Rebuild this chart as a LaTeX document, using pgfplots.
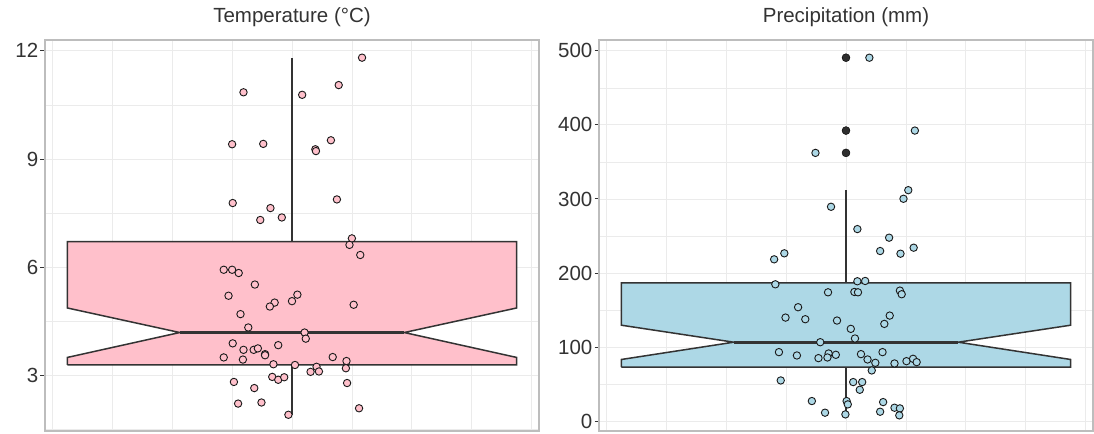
\documentclass[border=0pt]{standalone}
\usepackage{pgfplots}
\pgfplotsset{compat=1.18}
\usepackage{fontspec}
\setmainfont{Liberation Sans}
\definecolor{gridc}{HTML}{EBEBEB}
\definecolor{borderc}{HTML}{BDBDBD}
\definecolor{tickc}{HTML}{333333}
\definecolor{labc}{HTML}{333333}
\definecolor{boxc}{HTML}{333333}
\definecolor{pinkf}{HTML}{FFC0CB}
\definecolor{bluef}{HTML}{ADD8E6}
\pgfplotsset{
  panel/.style={
    scale only axis, width=494bp, height=391bp,
    xmin=-0.4125, xmax=0.4125,
    xtick={-0.4,-0.2,0,0.2,0.4}, minor xtick={-0.3,-0.1,0.1,0.3},
    xticklabels={},
    grid=both,
    major grid style={draw=gridc, line width=0.9bp},
    minor grid style={draw=gridc, line width=0.45bp},
    axis line style={draw=borderc, line width=1.3bp},
    tick align=outside, ytick pos=left,
    major tick length=4.5bp, minor tick length=0pt,
    xtick style={draw=none},
    ytick style={draw=tickc, line width=1bp},
    yticklabel style={font=\fontsize{20.5bp}{24bp}\selectfont, text=labc, inner sep=2bp},
    /pgf/number format/assume math mode=true,
    title style={font=\fontsize{20.5bp}{24bp}\selectfont, text=tickc, anchor=base, at={(0.5,1)}, yshift=12bp},
  },
  pts/.style={only marks, mark=*, mark size=3.7bp, mark options={draw=black!90, line width=0.9bp, fill=#1}},
}
\begin{document}
\begin{tikzpicture}
\path[use as bounding box] (0,0) rectangle (1094bp,434bp);
% ---------------- Temperature ----------------
\begin{axis}[panel, at={(45bp,3bp)}, anchor=south west,
  ymin=1.46, ymax=12.30,
  ytick={3,6,9,12}, minor ytick={1.5,4.5,7.5,10.5},
  title={Temperature (°C)}]
\addplot[draw=boxc, line width=1.5bp, fill=pinkf, line join=miter] coordinates {
 (-0.375,3.29) (-0.375,3.50) (-0.1875,4.19) (-0.375,4.87) (-0.375,6.71)
 (0.375,6.71) (0.375,4.87) (0.1875,4.19) (0.375,3.50) (0.375,3.29) (-0.375,3.29)};
\addplot[draw=boxc, line width=1.4bp] coordinates {(0,6.71) (0,11.81)};
\addplot[draw=boxc, line width=1.4bp] coordinates {(0,3.29) (0,1.91)};
\addplot[draw=boxc, line width=3bp] coordinates {(-0.1875,4.19) (0.1875,4.19)};
\addplot[pts=pinkf] coordinates {
(0.117,11.81) (-0.081,10.85) (0.017,10.78) (0.078,11.05) (-0.100,9.41)
(-0.048,9.42) (0.065,9.52) (0.039,9.27) (0.040,9.22) (-0.099,7.78)
(0.075,7.88) (-0.036,7.64) (-0.053,7.31) (-0.017,7.38) (0.100,6.80)
(0.096,6.62) (0.114,6.34) (-0.114,5.93) (-0.100,5.93) (-0.089,5.84)
(-0.062,5.52) (-0.106,5.21) (0.009,5.24) (0.000,5.06) (-0.029,5.02)
(-0.037,4.91) (0.103,4.96) (-0.086,4.70) (-0.073,4.33) (0.021,4.19)
(0.023,4.02) (-0.099,3.89) (-0.023,3.84) (-0.081,3.71) (-0.064,3.71)
(-0.057,3.75) (-0.045,3.59) (-0.045,3.56) (-0.114,3.50) (-0.082,3.44)
(0.068,3.51) (0.091,3.40) (0.090,3.20) (-0.031,3.31) (0.005,3.29)
(0.041,3.24) (0.031,3.10) (0.045,3.11) (-0.033,2.96) (-0.023,2.88)
(-0.013,2.95) (-0.097,2.82) (0.092,2.79) (-0.063,2.65) (-0.090,2.22)
(-0.051,2.25) (0.112,2.09) (-0.006,1.91)};
\end{axis}
% ---------------- Precipitation ----------------
\begin{axis}[panel, at={(599bp,3bp)}, anchor=south west,
  ymin=-13, ymax=514.5,
  ytick={0,100,200,300,400,500}, minor ytick={50,150,250,350,450},
  title={Precipitation (mm)}]
\addplot[draw=boxc, line width=1.5bp, fill=bluef, line join=miter] coordinates {
 (-0.375,73.2) (-0.375,83.5) (-0.1875,106.8) (-0.375,129.7) (-0.375,186.7)
 (0.375,186.7) (0.375,129.7) (0.1875,106.8) (0.375,83.5) (0.375,73.2) (-0.375,73.2)};
\addplot[draw=boxc, line width=1.4bp] coordinates {(0,186.7) (0,311.5)};
\addplot[draw=boxc, line width=1.4bp] coordinates {(0,73.2) (0,9.4)};
\addplot[draw=boxc, line width=3bp] coordinates {(-0.1875,106.8) (0.1875,106.8)};
\addplot[only marks, mark=*, mark size=4bp, mark options={draw=none, fill=black!82}] coordinates {
(0,490.6) (0,392.3) (0,362.2)};
\addplot[pts=bluef] coordinates {
(0.039,490.6) (0.115,392.3) (-0.051,362.2) (0.104,311.9) (0.096,300.3)
(-0.025,289.5) (0.019,259.4) (0.072,247.8) (0.057,229.8) (0.113,234.3)
(0.091,226.2) (-0.103,226.7) (-0.120,218.6) (-0.118,184.9) (0.019,189.0)
(0.032,189.4) (-0.030,174.1) (0.014,174.6) (0.020,174.1) (0.090,176.4)
(0.093,171.5) (-0.080,154.0) (-0.101,140.0) (-0.068,137.8) (-0.015,136.0)
(0.073,142.7) (0.064,131.5) (0.008,124.8) (0.015,111.8) (-0.043,106.8)
(-0.112,93.4) (0.061,93.4) (-0.082,88.9) (-0.029,91.6) (-0.017,89.8)
(-0.031,86.2) (-0.046,85.3) (0.025,90.7) (0.036,83.5) (0.049,79.0)
(0.081,78.1) (0.101,81.2) (0.112,84.4) (0.118,79.9) (0.043,68.7)
(-0.109,55.2) (0.012,53.0) (0.027,53.0) (0.023,42.6) (-0.057,27.4)
(0.001,27.4) (0.003,22.9) (0.062,26.0) (0.081,18.4) (0.090,17.5)
(-0.035,11.7) (-0.001,9.4) (0.057,13.0) (0.089,8.1)};
\end{axis}
\end{tikzpicture}
\end{document}
